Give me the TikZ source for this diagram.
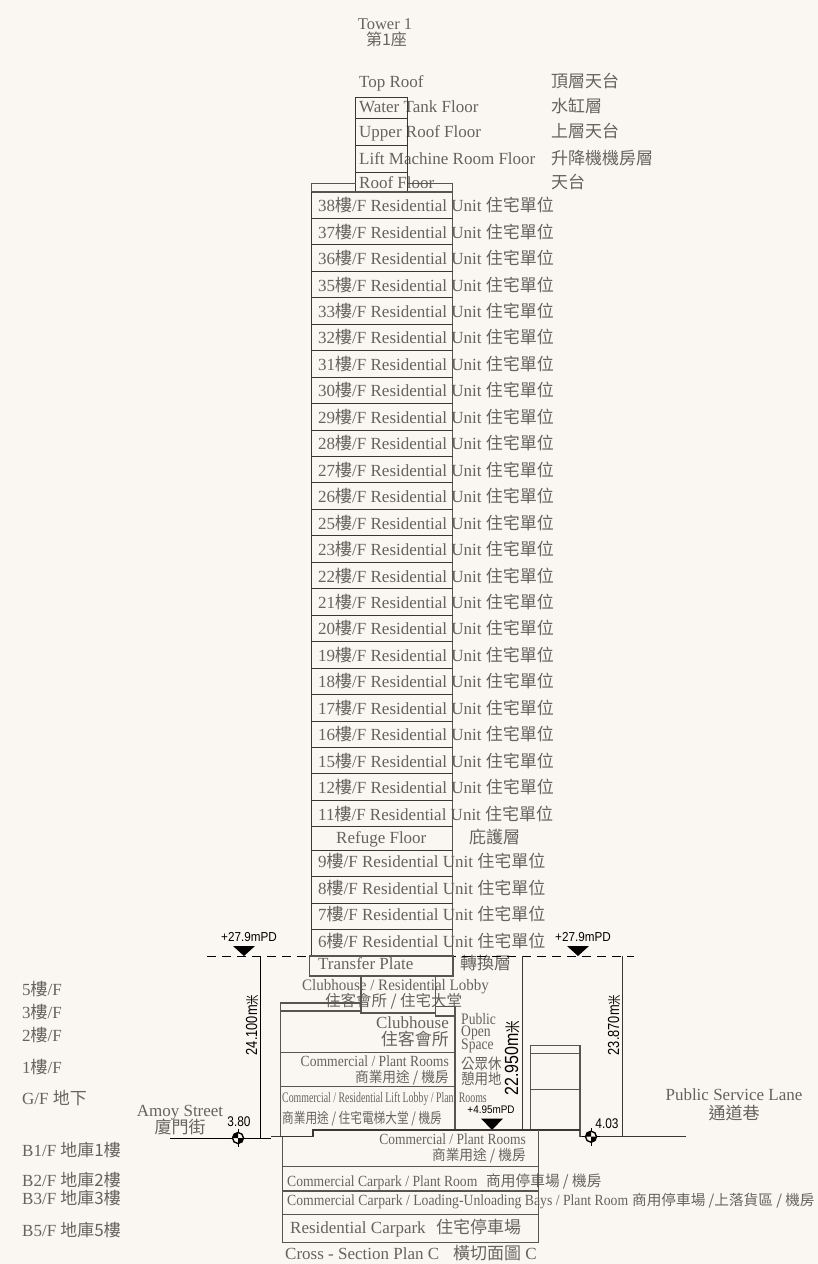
\documentclass[tikz,border=0pt]{standalone}
\usepackage{fontspec}
\usepackage{graphicx}
\setmainfont{Liberation Serif}
\newfontfamily\cjkf{Noto Sans CJK TC}
\newfontfamily\sansf{Liberation Sans}
\newcommand{\cj}[1]{{\cjkf #1}}
\newcommand{\sq}[3]{\scalebox{#1}[1]{\fontsize{#2}{#2}\selectfont #3}}
\definecolor{bgc}{HTML}{FAF6F2}
\definecolor{txc}{HTML}{666260}
\definecolor{lnc}{HTML}{3A3633}
\tikzset{
 lbl/.style={anchor=west,inner sep=0pt,yshift=-2pt,text height=12pt,text depth=3pt,text=txc,font=\fontsize{17}{17}\selectfont},
 lblr/.style={lbl,anchor=east},
 lblc/.style={lbl,anchor=center},
 lab/.style={lbl},
 tight/.style={lbl,text height=8.5pt,text depth=1.5pt},
 mpd/.style={anchor=center,inner sep=0pt,text=black,font=\sansf\fontsize{13}{13}\selectfont},
 dim/.style={anchor=center,inner sep=0pt,rotate=90,text=black,font=\sansf\fontsize{16}{16}\selectfont},
 ln/.style={draw=lnc,line width=1pt},
 ln2/.style={draw=lnc!85,line width=1.3pt},
 tri/.style={fill=black,draw=none},
}
\newcommand{\stationmark}[2]{%
 \draw[black,line width=.8pt] (#1-9,#2)--(#1+9,#2) (#1,#2-9)--(#1,#2+9);
 \draw[black,fill=bgc,line width=1.4pt] (#1,#2) circle (5.5pt);
 \fill[black] (#1,#2)--(#1+5.5,#2) arc[start angle=0,end angle=-90,radius=5.5pt]--cycle;
 \fill[black] (#1,#2)--(#1-5.5,#2) arc[start angle=180,end angle=90,radius=5.5pt]--cycle;
}
\begin{document}
\begin{tikzpicture}[x=1pt,y=-1pt]
\fill[bgc] (0,0) rectangle (818,1264);
\useasboundingbox (0,0) rectangle (818,1264);
% titles
\node[lblc,font=\fontsize{16.5}{16.5}\selectfont] (t1) at (385,23) {Tower 1};
\node[lblc,font=\fontsize{16}{16}\selectfont] (t2) at (386.5,39) {\cj{第1座}};
% top labels
\node[lbl] (r1) at (359,81) {Top Roof};
\node[lbl] (r2) at (359,106) {Water Tank Floor};
\node[lbl] (r3) at (359,131) {Upper Roof Floor};
\node[lbl] (r4) at (359,158) {Lift Machine Room Floor};
\node[lbl] (r5) at (359,182) {Roof Floor};
\node[lbl] (c1) at (551,81) {\cj{頂層天台}};
\node[lbl] (c2) at (551,106) {\cj{水缸層}};
\node[lbl] (c3) at (551,131) {\cj{上層天台}};
\node[lbl] (c4) at (551,158) {\cj{升降機機房層}};
\node[lbl] (c5) at (551,182) {\cj{天台}};
% residential rows
\foreach \f [count=\i from 0] in {38,37,36,35,33,32,31,30,29,28,27,26,25,23,22,21,20,19,18,17,16,15,12,11}{
 \pgfmathsetmacro{\yy}{205.2+26.45*\i}
 \node[lbl] (f\f) at (318,\yy) {\f\cj{樓}/F Residential Unit \cj{住宅單位}};
}
\node[lbl] (ref) at (336,837) {Refuge Floor};
\node[lbl] (refc) at (469,837) {\cj{庇護層}};
\foreach \f [count=\i from 0] in {9,8,7,6}{
 \pgfmathsetmacro{\yy}{861.2+26.5*\i}
 \node[lbl] (f\f) at (318,\yy) {\f\cj{樓}/F Residential Unit \cj{住宅單位}};
}
\node[lbl] (tp) at (318,963) {Transfer Plate};
\node[lbl] (tpc) at (460,963) {\cj{轉換層}};
% podium text
\node[lbl] (cl1) at (302,984) {\sq{.94}{16}{Clubhouse / Residential Lobby}};
\node[lbl] (cl2) at (325,1000) {\sq{1}{15.5}{\cj{住客會所 / 住宅大堂}}};
\node[lblr] (cl3) at (449,1022) {Clubhouse};
\node[lblr] (cl4) at (449,1039) {\cj{住客會所}};
\node[lblr] (cp1) at (449,1060) {\sq{.88}{15.5}{Commercial / Plant Rooms}};
\node[lblr] (cp2) at (449,1076) {\sq{.945}{14.5}{\cj{商業用途 / 機房}}};
\node[lbl] (cr1) at (282,1096) {\sq{.68}{14.5}{Commercial / Residential Lift Lobby / Plant Rooms}};
\node[lbl] (cr2) at (282,1117) {\sq{.805}{14.5}{\cj{商業用途 / 住宅電梯大堂 / 機房}}};
\node[tight] (po1) at (461,1018.5) {\sq{.85}{16}{Public}};
\node[tight] (po2) at (461,1031) {\sq{.85}{16}{Open}};
\node[tight] (po3) at (461,1044) {\sq{.85}{16}{Space}};
\node[lbl] (po4) at (461,1063) {\sq{.9}{15}{\cj{公眾休}}};
\node[lbl] (po5) at (461,1078) {\sq{.9}{15}{\cj{憩用地}}};
% basement text
\node[lblr] (b1) at (526,1138) {\sq{.87}{15.5}{Commercial / Plant Rooms}};
\node[lblr] (b2) at (526,1154) {\sq{.945}{14.5}{\cj{商業用途 / 機房}}};
\node[lbl] (b3) at (287,1180) {\sq{.88}{15.5}{Commercial Carpark / Plant Room}};
\node[lbl] (b4) at (486,1180) {\sq{.98}{15}{\cj{商用停車場 / 機房}}};
\node[lbl] (b5) at (287,1199) {\sq{.885}{15.5}{Commercial Carpark / Loading-Unloading Bays / Plant Room}};
\node[lbl] (b6) at (632,1199) {\sq{1.01}{14.5}{\cj{商用停車場 /上落貨區 / 機房}}};
\node[lbl] (b7) at (290,1227) {Residential Carpark};
\node[lbl] (b8) at (436,1227) {\cj{住宅停車場}};
\node[lbl] (b9) at (285,1253) {Cross - Section Plan C};
\node[lbl] (b10) at (453,1253) {\cj{橫切面圖} C};
% street labels
\node[lblc] (am1) at (180,1110) {Amoy Street};
\node[lblc] (am2) at (180,1127) {\cj{廈門街}};
\node[lblc] (ps1) at (734,1094) {Public Service Lane};
\node[lblc] (ps2) at (734,1113) {\cj{通道巷}};
% left labels
\node[lab] (l1) at (22,989) {5\cj{樓}/F};
\node[lab] (l2) at (22,1012) {3\cj{樓}/F};
\node[lab] (l3) at (22,1035) {2\cj{樓}/F};
\node[lab] (l4) at (22,1067) {1\cj{樓}/F};
\node[lab] (l5) at (22,1098) {G/F \cj{地下}};
\node[lab] (l6) at (22,1150) {B1/F \cj{地庫1樓}};
\node[lab] (l7) at (22,1180) {B2/F \cj{地庫2樓}};
\node[lab] (l8) at (22,1198) {B3/F \cj{地庫3樓}};
\node[lab] (l9) at (22,1230) {B5/F \cj{地庫5樓}};
% tower lines
\draw[ln] (355.5,192)--(355.5,97)--(407.5,97)--(407.5,192);
\draw[ln] (355.5,118.3)--(407.5,118.3) (355.5,145)--(407.5,145) (355.5,172.3)--(407.5,172.3);
\draw[ln2] (311.5,192)--(311.5,183.5)--(355.5,183.5) (407.5,183.5)--(452.5,183.5)--(452.5,192);
\draw[ln2,line width=1.6pt] (311.5,192)--(452.5,192);
\draw[ln] (311.5,192)--(311.5,956);
\draw[ln2] (452.5,192)--(452.5,956);
\foreach \i in {1,...,24}{
 \pgfmathsetmacro{\yy}{192+26.45*\i}
 \draw[ln] (311.5,\yy)--(452.5,\yy);
}
\foreach \i in {0,...,3}{
 \pgfmathsetmacro{\yy}{850+26.5*\i}
 \draw[ln] (311.5,\yy)--(452.5,\yy);
}
% datum
\draw[black,line width=1pt,dash pattern=on 9pt off 6pt] (207,956)--(634,956);
\fill[tri] (233,946)--(255,946)--(244,956)--cycle;
\fill[tri] (567,946)--(589,946)--(578,956)--cycle;
\fill[tri] (481,1118.5)--(503,1118.5)--(492,1130)--cycle;
\node[mpd] (m1) at (249,937) {\scalebox{.9}[1]{+27.9mPD}};
\node[mpd] (m2) at (583,937) {\scalebox{.9}[1]{+27.9mPD}};
\node[mpd,font=\sansf\fontsize{11}{11}\selectfont] (m3) at (491,1110) {\scalebox{.9}[1]{+4.95mPD}};
% transfer & podium
\draw[ln2] (309.5,956) rectangle (453,976);
\draw[ln2] (361,976)--(361,1013)--(435.5,1013) (435.5,976)--(435.5,1016)--(455,1016);
\draw[ln2] (361,1003)--(280.5,1003)--(280.5,1136.7);
\draw[ln2] (280.5,1011)--(361,1011);
\draw[ln2] (435.5,1006.7)--(455,1006.7)--(455,1130);
\draw[ln2] (280.5,1052.3)--(455,1052.3) (280.5,1086.7)--(455,1086.7);
% right block
\draw[ln2] (530.7,1130)--(530.7,1045.7)--(580,1045.7)--(580,1136.7);
\draw[ln2] (530.7,1053.7)--(580,1053.7) (530.7,1089.7)--(580,1089.7);
% dimension lines
\draw[black,line width=1pt] (260,956)--(260,1138);
\draw[lnc,line width=1pt] (522.7,956)--(522.7,1130);
\draw[lnc,line width=1pt] (622.3,956)--(622.3,1136.7);
% ground
\draw[black,line width=1pt] (170,1138)--(271,1138);
\draw[lnc,line width=1.2pt] (271,1136.7)--(313,1136.7)--(313,1130)--(580,1130);
\draw[lnc,line width=1.2pt] (580,1136.7)--(686,1136.7);
% basement
\draw[ln2] (282.3,1136.7)--(282.3,1242.3)--(538.7,1242.3)--(538.7,1130);
\draw[ln2] (282.3,1166.7)--(538.7,1166.7) (282.3,1191)--(538.7,1191) (282.3,1214.7)--(538.7,1214.7);
% dimension text
\node[dim] (d1) at (252,1025) {\scalebox{.8}[1]{24.100m\cj{\fontsize{13}{13}\selectfont 米}}};
\node[dim,font=\sansf\fontsize{19}{19}\selectfont] (d2) at (512,1058) {\scalebox{.84}[1]{22.950m\cj{\fontsize{15}{15}\selectfont 米}}};
\node[dim] (d3) at (614,1025) {\scalebox{.8}[1]{23.870m\cj{\fontsize{13}{13}\selectfont 米}}};
% level marks
\stationmark{238}{1138}
\stationmark{591}{1136.7}
\node[mpd,font=\sansf\fontsize{14}{14}\selectfont] (lv1) at (239,1122) {\scalebox{.85}[1]{3.80}};
\node[mpd,font=\sansf\fontsize{14}{14}\selectfont] (lv2) at (607,1124) {\scalebox{.85}[1]{4.03}};
\end{tikzpicture}
\end{document}
